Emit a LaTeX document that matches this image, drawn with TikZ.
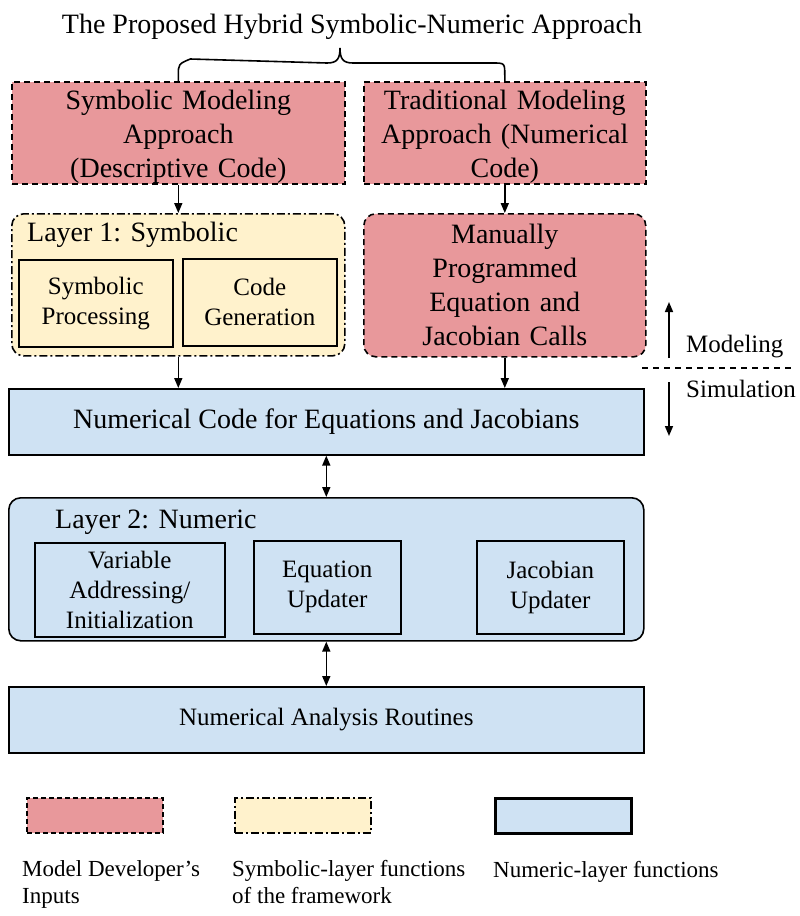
\documentclass[tikz,border=0pt]{standalone}
\usepackage{fontspec}
\setmainfont{Liberation Serif}
\usetikzlibrary{arrows.meta,calc}
\definecolor{redfill}{RGB}{232,152,155}
\definecolor{yelfill}{RGB}{255,242,204}
\definecolor{bluefill}{RGB}{207,226,243}
\newcommand\fBig{\fontsize{28}{34}\selectfont}
\newcommand\fMid{\fontsize{25}{30}\selectfont}
\newcommand\fLeg{\fontsize{23}{27}\selectfont}
\newcommand\topstrut{\rule{0pt}{27pt}}
\begin{document}
\begin{tikzpicture}[x=1pt,y=-1pt,
  base/.style={draw=black, line width=1.6pt, anchor=north west, inner sep=0pt, align=center},
  redbox/.style={base, fill=redfill, dash pattern=on 6pt off 4pt, font=\fBig},
  yelbox/.style={base, fill=yelfill, dash pattern=on 8pt off 3pt on 2pt off 3pt},
  yelin/.style={base, fill=yelfill, font=\fMid},
  bluebox/.style={base, fill=bluefill},
  bluein/.style={base, fill=bluefill, font=\fMid},
  arr/.style={line width=1.6pt, -{Triangle[length=10pt,width=8pt]}},
  darr/.style={line width=1.6pt, {Triangle[length=10pt,width=8pt]}-{Triangle[length=10pt,width=8pt]}},
  lab/.style={anchor=base west, inner sep=0pt}]
\useasboundingbox (0,0) rectangle (800,916);

% title and brace
\node[anchor=base, inner sep=0pt, font=\fBig] (title) at (352,33) {The Proposed Hybrid Symbolic-Numeric Approach};

% top boxes
\node[redbox, minimum width=333pt, minimum height=102pt, text width=320pt] (sma) at (11,81) {\topstrut Symbolic Modeling\\Approach\\(Descriptive Code)};
\node[redbox, minimum width=282pt, minimum height=102pt, text width=270pt] (tma) at (363,81) {\topstrut Traditional Modeling\\Approach (Numerical\\Code)};

\draw[line width=1.6pt] (sma.north) -- ++(0,-5) .. controls +(0,-12) .. ++(12,-17) -- (327,63)
  .. controls (337,63) and (340,59) .. (340,48) .. controls (340,59) and (343,63) .. (353,63)
  -- ($(tma.north)+(-12,-18)$) .. controls ($(tma.north)+(0,-18)$) .. ($(tma.north)+(0,-5)$) -- (tma.north);

% layer 1
\node[yelbox, rounded corners=12pt, minimum width=333pt, minimum height=142pt] (l1) at (11,213) {};
\node[lab, font=\fBig] (l1lab) at (27,241) {Layer 1: Symbolic};
\node[yelin, minimum width=154pt, minimum height=87pt] (sp) at (18,259) {Symbolic\\Processing};
\node[yelin, minimum width=154pt, minimum height=87pt] (cg) at (182,258) {Code\\Generation};

\node[redbox, rounded corners=12pt, minimum width=282pt, minimum height=143pt, text width=270pt] (man) at (363,213) {Manually\\Programmed\\Equation and\\Jacobian Calls};

% numerical code
\node[bluebox, font=\fBig, minimum width=635pt, minimum height=66pt] (ncode) at (8,388) {Numerical Code for Equations and Jacobians};

% layer 2
\node[bluebox, rounded corners=12pt, minimum width=635pt, minimum height=143pt] (l2) at (8,497) {};
\node[lab, font=\fBig] (l2lab) at (55,528) {Layer 2: Numeric};
\node[bluein, minimum width=190pt, minimum height=94pt] (var) at (34,542) {Variable\\Addressing/\\Initialization};
\node[bluein, minimum width=147pt, minimum height=93pt] (eq) at (253,540) {Equation\\Updater};
\node[bluein, minimum width=147pt, minimum height=93pt] (jac) at (476,540) {Jacobian\\Updater};

\node[bluein, minimum width=635pt, minimum height=66pt] (nar) at (8,686) {Numerical Analysis Routines};

% connectors
\draw[arr] (sma.south) -- (l1.north);
\draw[arr] (tma.south) -- (man.north);
\draw[arr] (l1.south) -- (l1.south |- ncode.north);
\draw[arr] (man.south) -- (man.south |- ncode.north);
\draw[darr] (ncode.south) -- (l2.north);
\draw[darr] (l2.south) -- (nar.north);

% modeling / simulation
\coordinate (mb) at (669,358);
\coordinate (mt) at (669,302);
\coordinate (sb) at (669,382);
\coordinate (st) at (669,436);
\coordinate (dl) at (642,368);
\coordinate (dr) at (795,368);
\draw[arr] (mb) -- (mt);
\draw[arr] (sb) -- (st);
\draw[line width=1.1pt, dash pattern=on 6pt off 5pt] (dl) -- (dr);
\node[lab, font=\fMid] (modl) at (686,352) {Modeling};
\node[lab, font=\fMid] (siml) at (686,397) {Simulation};

% legend
\node[redbox, dash pattern=on 5pt off 3pt, minimum width=136pt, minimum height=35pt] (lg1) at (26,797) {};
\node[yelbox, minimum width=136pt, minimum height=35pt] (lg2) at (234,797) {};
\node[bluebox, line width=2.6pt, minimum width=136pt, minimum height=35pt] (lg3) at (494,797) {};
\node[lab, font=\fLeg, align=left] (lt1) at (22,903) {Model Developer’s\\Inputs};
\node[lab, font=\fLeg, align=left] (lt2) at (232,903) {Symbolic-layer functions\\of the framework};
\node[lab, font=\fLeg, align=left] (lt3) at (493,877) {Numeric-layer functions};
\end{tikzpicture}
\end{document}
